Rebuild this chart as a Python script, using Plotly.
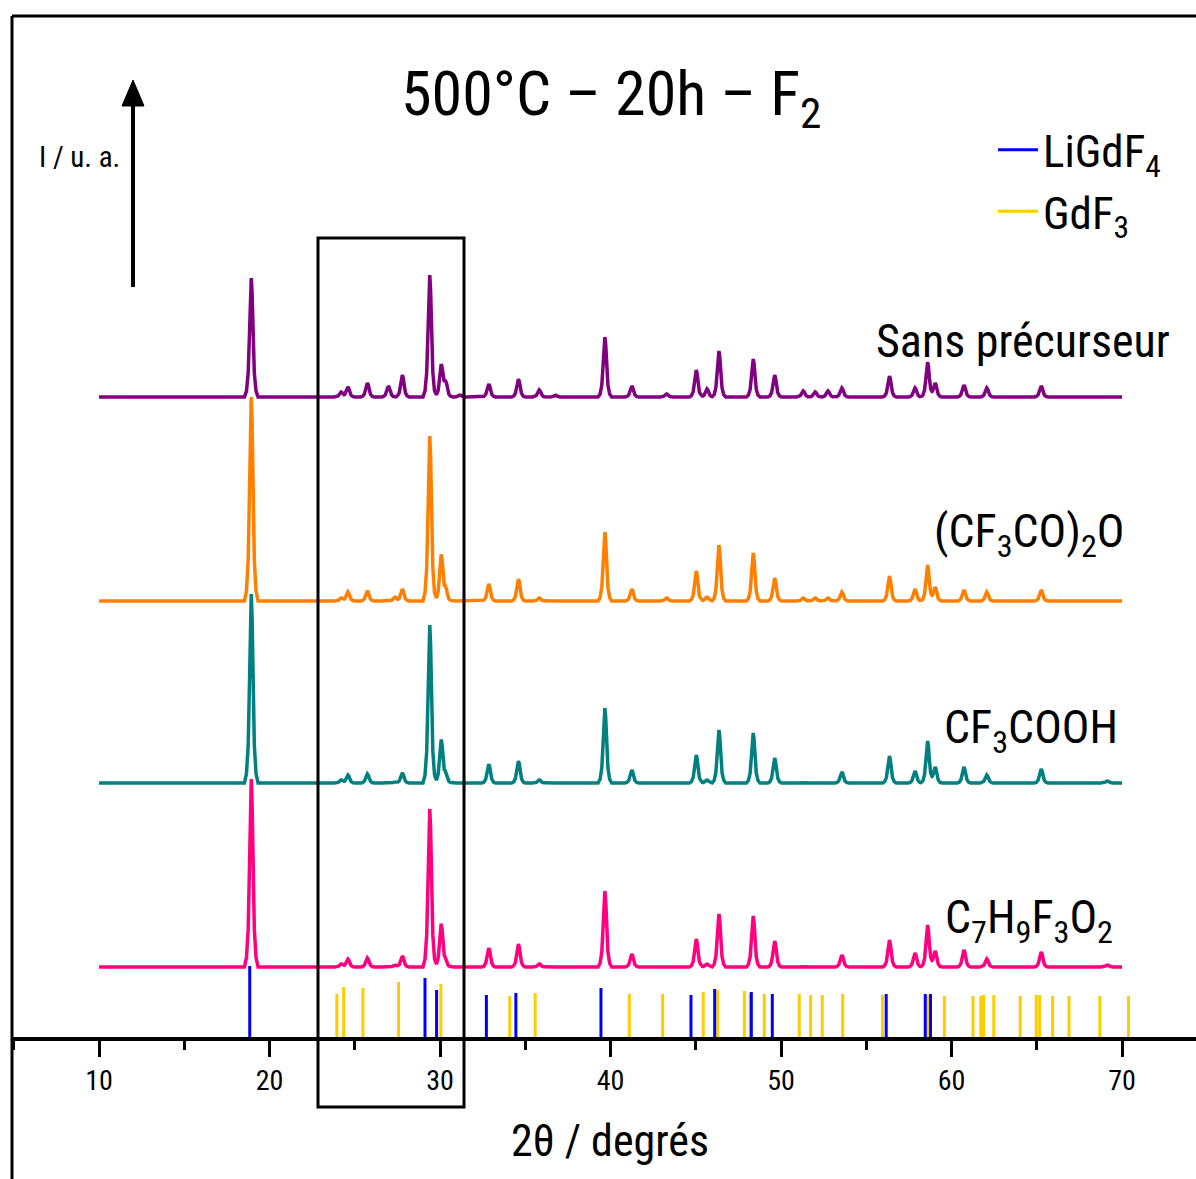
import plotly.graph_objects as go

# ---------------- data ----------------
# 2theta positions of the observed diffraction peaks (degrees)
PEAK_POS = [18.93, 24.20, 24.60, 25.74, 26.97, 27.35, 27.79, 29.40, 30.07, 30.34,
            31.17, 32.86, 34.60, 35.82, 36.75, 39.67, 41.25, 43.29, 45.03, 45.66,
            46.36, 48.37, 49.63, 51.30, 52.00, 52.75, 53.57, 56.36, 57.86, 58.60,
            59.04, 60.73, 62.07, 65.26, 69.15]

# peak intensities (a.u.) for each sample
H_SANS = [119, 5, 10, 14, 11, 0, 22, 122, 32, 14,
          2, 13, 18, 7, 2, 60, 11, 3, 27, 8,
          46, 38, 22, 6, 5, 6, 9, 21, 9, 35,
          14, 12, 9, 11, 0]
H_ANHYD = [204, 3, 9, 10, 0, 4, 12, 165, 46, 11,
           0, 17, 22, 3, 0, 69, 12, 3, 30, 4,
           56, 48, 23, 3, 3, 3, 9, 25, 12, 36,
           14, 11, 9, 11, 0]
H_TFA = [189, 3, 8, 9, 0, 1, 10, 158, 43, 8,
         0, 19, 22, 3, 0, 75, 13, 0, 28, 3,
         53, 50, 25, 1, 0, 0, 11, 27, 12, 42,
         16, 16, 8, 14, 2]
H_C7 = [188, 3, 8, 9, 0, 2, 11, 158, 43, 5,
        0, 19, 23, 3, 0, 76, 13, 0, 28, 3,
        53, 51, 26, 1, 0, 0, 12, 27, 14, 42,
        16, 17, 8, 15, 2]

# vertical offsets (baselines) of the stacked patterns (a.u.)
OFFSETS = [640, 436, 254, 70]
SAMPLE_LABELS = ["Sans précurseur", "(CF<sub>3</sub>CO)<sub>2</sub>O",
                 "CF<sub>3</sub>COOH", "C<sub>7</sub>H<sub>9</sub>F<sub>3</sub>O<sub>2</sub>"]
SCAN_RANGE = [10.0, 70.0]

# reference patterns (stick positions, relative intensities)
LIGDF4_POS = [18.84, 29.12, 29.80, 32.72, 34.45, 39.44, 44.72, 46.11, 48.26, 49.49,
              56.17, 58.46, 58.77]
LIGDF4_INT = [71, 59, 47, 42, 44, 49, 42, 48, 45, 43, 43, 43, 43]
GDF3_POS = [23.95, 24.35, 25.48, 27.57, 30.05, 34.09, 35.58, 41.10, 43.06, 45.44,
            46.29, 47.85, 48.19, 49.02, 51.07, 51.74, 52.42, 53.62, 55.95, 58.59,
            59.58, 61.26, 61.72, 61.88, 62.48, 64.03, 64.97, 65.17, 65.93, 66.89,
            68.70, 70.38]
GDF3_INT = [43, 50, 49, 55, 53, 41, 44, 43, 43, 45,
            47, 46, 44, 43, 43, 42, 42, 43, 42, 42,
            41, 41, 41, 42, 42, 41, 42, 42, 41, 41,
            41, 41]

X_TICKS = [10, 20, 30, 40, 50, 60, 70]

# ---------------- styling ----------------
FONT = "Liberation Sans Narrow, Arial Narrow, Roboto Condensed, Roboto, Liberation Sans, Arial, sans-serif"
COLORS = ["#800080", "#FF8000", "#008080", "#FF0080"]
BLUE = "#0000FF"
YELLOW = "#FFCC00"
W = 0.40  # half base width of a peak (deg)
# peak profile knots: (distance / W, fraction of height)
KNOTS = [(0.0, 1.0), (0.12, 0.88), (0.25, 0.55), (0.45, 0.2), (0.7, 0.05), (1.0, 0.0)]

W_PX, H_PX = 1196, 1179
ML, MR, MT, MB = 12, 0, 16, 142
PX_PER_DEG = 17.05
X0 = 10 - (99 - ML) / PX_PER_DEG
X1 = X0 + (W_PX - ML - MR) / PX_PER_DEG
PLOT_H = H_PX - MT - MB


def shape_factor(d):
    for (d0, f0), (d1, f1) in zip(KNOTS[:-1], KNOTS[1:]):
        if d0 <= d <= d1:
            return f0 + (f1 - f0) * (d - d0) / (d1 - d0)
    return 0.0


def profile(base, heights):
    xs = set(SCAN_RANGE)
    for p in PEAK_POS:
        for k, _ in KNOTS:
            xs.add(round(p + k * W, 4))
            xs.add(round(p - k * W, 4))
    xs = sorted(x for x in xs if SCAN_RANGE[0] <= x <= SCAN_RANGE[1])
    ys = []
    for x in xs:
        y = base
        for p, h in zip(PEAK_POS, heights):
            y += h * shape_factor(abs(x - p) / W)
        ys.append(y)
    return xs, ys


def sticks(pos, inten):
    xs, ys = [], []
    for p, h in zip(pos, inten):
        xs += [p, p, None]
        ys += [0, h, None]
    return xs, ys


fig = go.Figure()

for base, hts, col in zip(OFFSETS, [H_SANS, H_ANHYD, H_TFA, H_C7], COLORS):
    xs, ys = profile(base, hts)
    fig.add_trace(go.Scatter(x=xs, y=ys, mode="lines", showlegend=False,
                             line=dict(color=col, width=3.5), hoverinfo="skip"))

xs, ys = sticks(GDF3_POS, GDF3_INT)
fig.add_trace(go.Scatter(x=xs, y=ys, mode="lines", name="GdF<sub>3</sub>", legendrank=2,
                         line=dict(color=YELLOW, width=3)))
xs, ys = sticks(LIGDF4_POS, LIGDF4_INT)
fig.add_trace(go.Scatter(x=xs, y=ys, mode="lines", name="LiGdF<sub>4</sub>", legendrank=1,
                         line=dict(color=BLUE, width=3)))


def py_to_paper(py):
    return (H_PX - MB - py) / PLOT_H


def px_to_paper(px):
    return (px - ML) / (W_PX - ML - MR)


annotations = [
    dict(text="500°C – 20h – F<sub>2</sub>", x=px_to_paper(611), y=py_to_paper(98),
         xref="paper", yref="paper", showarrow=False, xanchor="center", yanchor="middle",
         font=dict(size=62, color="black", family=FONT)),
    dict(text="I / u. a.", x=px_to_paper(37), y=py_to_paper(157),
         xref="paper", yref="paper", showarrow=False, xanchor="left", yanchor="middle",
         font=dict(size=29, color="black", family=FONT)),
    dict(text="2θ / degrés", x=px_to_paper(610), y=py_to_paper(1141),
         xref="paper", yref="paper", showarrow=False, xanchor="center", yanchor="middle",
         font=dict(size=44, color="black", family=FONT)),
]
label_pos = [(1172, 341), (1127, 534), (1120, 730), (1115, 920)]
for lab, (lx, ly) in zip(SAMPLE_LABELS, label_pos):
    annotations.append(dict(text=lab, x=px_to_paper(lx), y=py_to_paper(ly),
                            xref="paper", yref="paper", showarrow=False,
                            xanchor="right", yanchor="middle",
                            font=dict(size=46, color="black", family=FONT)))

shapes = [
    # left frame line (extends below the x axis)
    dict(type="line", xref="paper", yref="paper", x0=0, x1=0,
         y0=py_to_paper(H_PX), y1=py_to_paper(16), line=dict(color="black", width=3)),
    # top frame line
    dict(type="line", xref="paper", yref="paper", x0=0, x1=1,
         y0=py_to_paper(16), y1=py_to_paper(16), line=dict(color="black", width=3)),
    # highlight box
    dict(type="rect", xref="paper", yref="paper",
         x0=px_to_paper(318), x1=px_to_paper(464), y0=py_to_paper(1107), y1=py_to_paper(238),
         line=dict(color="black", width=3)),
    # intensity arrow shaft
    dict(type="line", xref="paper", yref="paper", x0=px_to_paper(133), x1=px_to_paper(133),
         y0=py_to_paper(287), y1=py_to_paper(100), line=dict(color="black", width=4)),
    # arrow head
    dict(type="path", xref="paper", yref="paper",
         path="M {a},{b} L {c},{d} L {e},{d} Z".format(
             a=px_to_paper(133), b=py_to_paper(80),
             c=px_to_paper(122), d=py_to_paper(106), e=px_to_paper(144)),
         fillcolor="black", line=dict(color="black", width=1)),
]

fig.update_layout(
    width=W_PX, height=H_PX,
    margin=dict(l=ML, r=MR, t=MT, b=MB),
    paper_bgcolor="white", plot_bgcolor="white",
    font=dict(family=FONT, color="black"),
    showlegend=True,
    legend=dict(x=px_to_paper(993), y=py_to_paper(114), xanchor="left", yanchor="top",
                bgcolor="rgba(0,0,0,0)", font=dict(size=45, family=FONT),
                itemwidth=40, tracegroupgap=0),
    annotations=annotations,
    shapes=shapes,
    xaxis=dict(range=[X0, X1], tickvals=X_TICKS, ticks="outside", ticklen=16, tickwidth=3,
               tickcolor="black", showline=True, linewidth=3.5, linecolor="black",
               showgrid=False, zeroline=False, tickfont=dict(size=28, family=FONT),
               minor=dict(ticks="outside", ticklen=9, tickwidth=3, tickcolor="black",
                          dtick=5, tick0=0, showgrid=False)),
    yaxis=dict(range=[0, PLOT_H], showticklabels=False, showgrid=False, zeroline=False,
               showline=False, ticks=""),
)

fig.write_html("out.html", config={"displayModeBar": False},
               post_script="document.body.style.margin='0';")
